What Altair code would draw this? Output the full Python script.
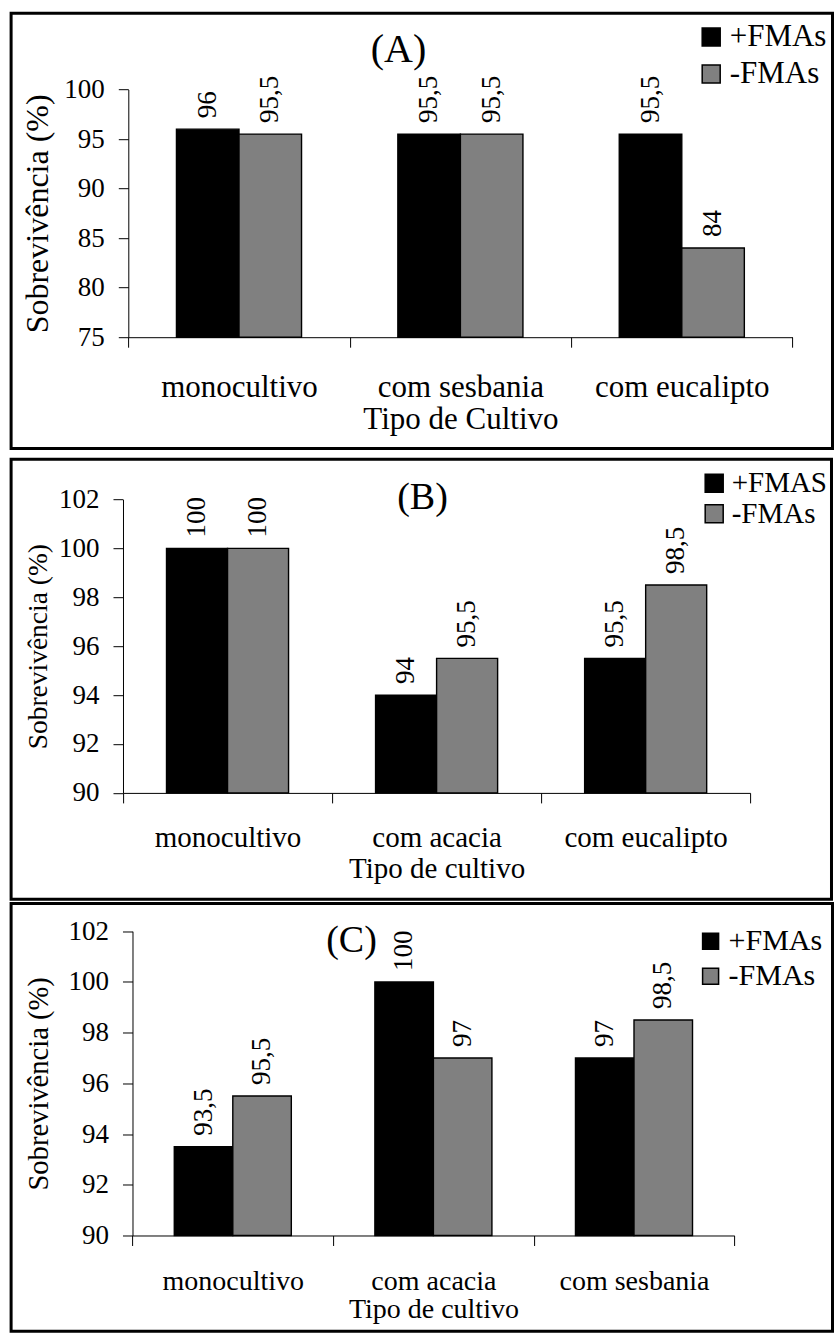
import altair as alt
import pandas as pd

FONT = "Liberation Serif, Times New Roman, Tinos, DejaVu Serif, serif"
Y_TITLE = "Sobrevivência (%)"

# ---- (A) ----
cult_a = ["monocultivo", "com sesbania", "com eucalipto"]
series_a = ["+FMAs", "-FMAs"]
com_a = [96, 95.5, 95.5]
sem_a = [95.5, 95.5, 84]
ticks_a = [75, 80, 85, 90, 95, 100]

# ---- (B) ----
cult_b = ["monocultivo", "com acacia", "com eucalipto"]
series_b = ["+FMAS", "-FMAs"]
com_b = [100, 94, 95.5]
sem_b = [100, 95.5, 98.5]
ticks_b = [90, 92, 94, 96, 98, 100, 102]

# ---- (C) ----
cult_c = ["monocultivo", "com acacia", "com sesbania"]
series_c = ["+FMAs", "-FMAs"]
com_c = [93.5, 100, 97]
sem_c = [95.5, 97, 98.5]
ticks_c = [90, 92, 94, 96, 98, 100, 102]

COLORS = ["#000000", "#808080"]


def rotulo(v):
    return f"{v:g}".replace(".", ",")


def tabela(cults, series, com, sem):
    rows = []
    for c, p, m in zip(cults, com, sem):
        rows.append({"cultivo": c, "trat": series[0], "sobrev": p, "rotulo": rotulo(p)})
        rows.append({"cultivo": c, "trat": series[1], "sobrev": m, "rotulo": rotulo(m)})
    return pd.DataFrame(rows)


def painel(cults, series, com, sem, ticks, letra, xtitle, g):
    """One framed panel: the view is the whole frame, the plot sits inside it."""
    df = tabela(cults, series, com, sem)
    lo, hi = ticks[0], ticks[-1]
    W, H = g["size"]
    px0, px1, py0, py1 = g["plot"]  # plot area inside the frame

    x = alt.X(
        "cultivo:N",
        scale=alt.Scale(domain=cults, range=[px0, px1], paddingInner=0, paddingOuter=0),
        axis=alt.Axis(
            title=xtitle, offset=-(H - py1), tickBand="extent", tickSize=10, labelAngle=0,
            labelFont=FONT, labelFontSize=g["xlab"], labelPadding=g["xpad"],
            labelBaseline="alphabetic", labelOverlap=False,
            titleFont=FONT, titleFontSize=g["xtit"], titleY=g["xtity"],
            titleBaseline="alphabetic", titleFontWeight="normal",
        ),
    )
    xo = alt.XOffset(
        "trat:N", scale=alt.Scale(domain=series, paddingInner=0, paddingOuter=g["po"])
    )
    y = alt.Y(
        "sobrev:Q",
        scale=alt.Scale(domain=[lo, hi], range=[py1, py0], zero=False, nice=False),
        axis=alt.Axis(
            values=ticks, format="d", title=Y_TITLE, offset=-px0, tickSize=10,
            labelPadding=14, labelFont=FONT, labelFontSize=27, labelFlush=False,
            labelOverlap=False, titleFont=FONT, titleFontSize=g["ytit"],
            titleX=g["ytitx"], titleBaseline="alphabetic", titleFontWeight="normal",
        ),
    )
    color = alt.Color(
        "trat:N",
        scale=alt.Scale(domain=series, range=COLORS),
        legend=alt.Legend(
            orient="none", legendX=g["legx"], legendY=g["legy"], title=None,
            symbolType="square", symbolSize=g["sym"], symbolStrokeColor="black",
            symbolStrokeWidth=1.5, symbolOpacity=1, labelFont=FONT,
            labelFontSize=g["leglab"], labelColor="black", labelOffset=3,
            rowPadding=g["legrow"], padding=0,
        ),
    )

    barras = alt.Chart(df).mark_bar(stroke="black", strokeWidth=1.4).encode(
        x=x, xOffset=xo, y=y, y2=alt.datum(lo), color=color
    )
    valores = alt.Chart(df).mark_text(
        angle=270, align="left", baseline="middle", dx=11, font=FONT,
        fontSize=27, color="black",
    ).encode(x=x, xOffset=xo, y=y, text="rotulo:N")

    tx, ty = g["tit"]
    titulo = alt.Chart(alt.Data(values=[{}])).mark_text(
        text=letra, font=FONT, fontSize=g["titsize"], color="black",
        align="center", baseline="middle",
    ).encode(x=alt.value(tx), y=alt.value(ty))

    return alt.layer(barras, valores, titulo).properties(width=W, height=H)


pa = painel(cult_a, series_a, com_a, sem_a, ticks_a, "(A)", "Tipo de Cultivo", dict(
    size=(821.4, 435.3), plot=(117.2, 781.4, 76.3, 324.0), po=0.77, tit=(387.4, 37.3),
    titsize=40, legx=684.6, legy=8.3, sym=324, leglab=31, legrow=5,
    ytit=32, ytitx=-81, xlab=31, xpad=49, xtit=31, xtity=91.6,
))
pb = painel(cult_b, series_b, com_b, sem_b, ticks_b, "(B)", "Tipo de cultivo", dict(
    size=(820.4, 440.0), plot=(111.9, 739.1, 40.3, 333.7), po=0.713, tit=(411.4, 38.7),
    titsize=38, legx=688.6, legy=9.5, sym=324, leglab=29, legrow=0.5,
    ytit=27.5, ytitx=-77, xlab=29, xpad=43.3, xtit=29, xtity=84.3,
))
pc = painel(cult_c, series_c, com_c, sem_c, ticks_c, "(C)", "Tipo de cultivo", dict(
    size=(821.4, 427.7), plot=(121.4, 723.2, 27.7, 332.0), po=0.714, tit=(340.4, 37.2),
    titsize=38, legx=684.5, legy=22.7, sym=256, leglab=30, legrow=5,
    ytit=28.6, ytitx=-85, xlab=28, xpad=44, xtit=28, xtity=82.5,
))

indep = dict(x="independent", y="independent", color="independent", xOffset="independent")

baixo = (
    alt.vconcat(pb, pc, spacing=4.3, bounds="flush")
    .resolve_scale(**indep)
    .resolve_legend(color="independent")
)
chart = (
    alt.vconcat(pa, baixo, spacing=10, bounds="flush")
    .resolve_scale(**indep)
    .resolve_legend(color="independent")
    .properties(padding={"left": 9.1, "top": 11.2, "right": 0, "bottom": 0})
    .configure(font=FONT)
    .configure_view(stroke="black", strokeWidth=3)
    .configure_axis(
        domainColor="black", domainWidth=1, tickColor="black", tickWidth=1,
        labelColor="black", titleColor="black", labelFont=FONT, titleFont=FONT, grid=False,
    )
)

chart.save("out.html", embed_options={"renderer": "svg", "actions": False})
